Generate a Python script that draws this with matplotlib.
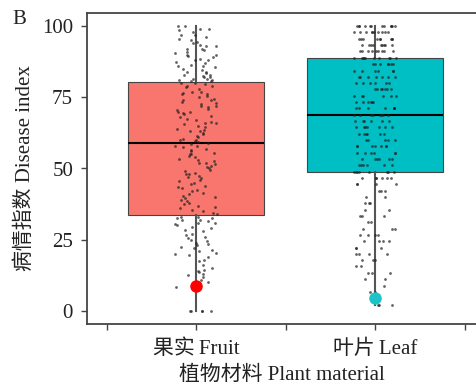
import matplotlib
matplotlib.use('Agg')
import matplotlib.pyplot as plt
import numpy as np

FontSize = 15
plt.rcParams['font.family'] = ['Liberation Serif', 'Noto Sans CJK SC']

categories = ['果实\u2009Fruit', '叶片\u2009Leaf']
box_colors = ['#F8766D', '#00BFC4']
dot_colors = ['#FF0000', '#1CC4C8']

# box statistics
q1 = [33.7, 48.9]
median = [59.0, 68.9]
q3 = [80.4, 88.9]
whisker_low = [0.0, 2.2]
whisker_high = [100.0, 100.0]

# highlighted sample per group
highlight = [8.8, 4.6]

# fruit disease index of every sample
fruit = [100, 100, 99, 99, 98.5, 98, 97, 97, 96, 95.5, 95, 94.5, 94, 93.5, 93, 93, 92, 92,
         91.5, 91, 90.5, 90, 90, 89.5, 89, 88.5, 88, 88, 87.5, 87, 86.5, 86, 86, 85.5, 85,
         84.5, 84, 84, 83.5, 83, 83, 82.5, 82, 82, 81.5, 81.5, 81, 81, 80.8, 80.6,
         80, 80, 79.5, 79, 79, 78.5, 78, 77, 77, 76.5, 76, 76, 75.5, 75, 74.5, 74, 74, 73.5,
         73, 72.5, 72, 72, 71.5, 71, 70.5, 70, 70, 69.5, 69, 68.5, 68, 67.5, 67, 66.5, 66,
         66, 65.5, 65, 64.5, 64, 63.5, 63, 63, 62.5, 62, 61.5, 61, 60.5, 60, 60, 59.5, 59.2,
         59, 58.5, 58, 58, 57.5, 57, 56.5, 56, 55.5, 55, 55, 54.5, 54, 53.5, 53, 52.5, 52,
         52, 51.5, 51, 50.5, 50, 49.5, 49, 48.5, 48, 48, 47.5, 47, 46.5, 46, 45.5, 45, 44.5,
         44, 43.5, 43, 42.5, 42, 41.5, 41, 40.5, 40, 39.5, 39, 38.5, 38, 37.5, 37, 36.5, 36,
         35.5, 35, 34.5, 34,
         33, 33, 32.5, 32.5, 32, 32, 31.5, 31, 31, 30.5, 30, 29.5, 29, 28.5, 28, 27, 26.5,
         26, 25.5, 25, 24.5, 24, 23.5, 23, 22.5, 22, 21.5, 21, 20.5, 20, 19.5, 19, 18, 17.5,
         16, 15, 14.5, 14, 13.5, 13, 12.5, 12, 11, 10, 9.5, 8.5, 8, 0, 0, 0, 0, 0]

# leaf scores sit on discrete levels: level value and number of samples on it
leaf_levels = [100, 97.8, 95.6, 93.3, 91.1, 88.9, 86.7, 84.4, 82.2, 80, 77.8, 75.6, 73.3,
               71.1, 68.9, 66.7, 64.4, 62.2, 60, 57.8, 55.6, 53.3, 51.1, 48.9, 46.7, 44.4,
               42.2, 40, 37.8, 35.6, 33.3, 31.1, 28.9, 26.7, 24.4, 22.2, 20, 17.8, 15.6,
               13.3, 11.1, 8.9, 6.7, 4.4, 2.2]
leaf_counts = [12, 10, 9, 9, 9, 10, 7, 6, 7, 6, 7, 6, 6, 7, 8, 6, 7, 6, 5, 7, 6, 6, 6, 8,
               6, 4, 3, 2, 3, 2, 3, 2, 3, 4, 4, 3, 4, 3, 2, 3, 2, 1, 2, 2, 3]
leaf = np.repeat(leaf_levels, leaf_counts)


def plot_data():
    fig = plt.figure(figsize=(4.76, 3.87), dpi=100)
    ax = fig.add_axes([87 / 476, 1 - 324 / 387, 389 / 476, 311 / 387])

    stats = []
    for i in range(2):
        stats.append(dict(q1=q1[i], med=median[i], q3=q3[i],
                          whislo=whisker_low[i], whishi=whisker_high[i], fliers=[]))
    bp = ax.bxp(stats, positions=[1, 2], widths=0.76, patch_artist=True, showcaps=False,
                boxprops=dict(edgecolor='#444444', linewidth=0.8),
                whiskerprops=dict(color='#555555', linewidth=1.5),
                medianprops=dict(color='black', linewidth=1.5), zorder=1)
    for patch, c in zip(bp['boxes'], box_colors):
        patch.set_facecolor(c)

    # jittered points
    rng = np.random.default_rng(3)
    for i, vals in enumerate([fruit, leaf]):
        vals = np.asarray(vals, dtype=float)
        xs = i + 1 + rng.uniform(-0.12, 0.12, len(vals))
        ax.scatter(xs, vals, s=4, color='#222222', alpha=0.7, linewidths=0, zorder=3)
        ax.plot(i + 1, highlight[i], 'o', color=dot_colors[i], markersize=8, zorder=4)

    ax.set_xlim(0.391, 2.564)
    ax.set_ylim(-4.6, 104.6)
    ax.set_yticks([0, 25, 50, 75, 100])
    ax.set_xticks([0.5, 1, 1.5, 2, 2.5], labels=['', categories[0], '', categories[1], ''])

    for side in ['left', 'bottom', 'top']:
        ax.spines[side].set_color('#444444')
        ax.spines[side].set_linewidth(1.3)
    ax.spines['right'].set_visible(False)
    ax.tick_params(axis='both', colors='#444444', labelcolor='#222222', length=4,
                   width=1.0, labelsize=FontSize)
    ax.tick_params(axis='y', pad=6)
    ax.tick_params(axis='x', pad=7)

    ax.set_xlabel('植物材料 Plant material', fontsize=FontSize, color='#222222', labelpad=5)
    ax.set_ylabel('病情指数 Disease index', fontsize=FontSize, color='#222222', labelpad=5)
    fig.text(12 / 476, 1 - 19 / 387, 'B', fontsize=FontSize, color='#222222', va='center')

    fig.savefig('out.png', dpi=100)


if __name__ == "__main__":
    plot_data()
